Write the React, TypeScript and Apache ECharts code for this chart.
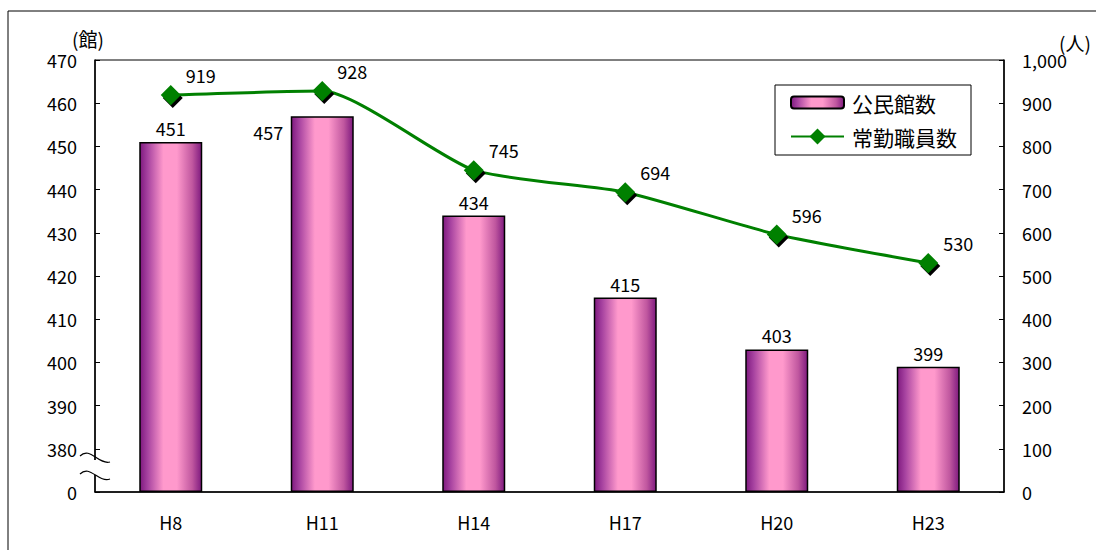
import React, { useEffect, useRef } from "react";
import * as echarts from "echarts";

const categories = ["H8", "H11", "H14", "H17", "H20", "H23"];
const halls = [451, 457, 434, 415, 403, 399];
const staff = [919, 928, 745, 694, 596, 530];
const leftTickLabels = ["0", "380", "390", "400", "410", "420", "430", "440", "450", "460", "470"];
const BREAK_BASE = 370;

const FONT = "'Noto Sans CJK JP', 'Noto Sans', sans-serif";

export default function App() {
  const ref = useRef<HTMLDivElement>(null);
  useEffect(() => {
    if (!ref.current) return;
    const chart = echarts.init(ref.current, null, { renderer: "svg" });
    const barGradient = new echarts.graphic.LinearGradient(0, 0, 1, 0, [
      { offset: 0, color: "#7f1a7f" },
      { offset: 0.12, color: "#a5419f" },
      { offset: 0.38, color: "#ff99cc" },
      { offset: 0.6, color: "#ff99cc" },
      { offset: 0.85, color: "#c0579f" },
      { offset: 1, color: "#7f1a7f" },
    ]);
    const legendText = { fontSize: 21, color: "#000", fontFamily: FONT, padding: [0, 0, 0, 3] };
    const option: any = {
      animation: false,
      textStyle: { fontFamily: FONT },
      grid: {
        left: 95,
        right: 92,
        top: 60,
        bottom: 58,
        show: true,
        borderColor: "#000",
        borderWidth: 1,
        backgroundColor: "transparent",
      },
      legend: [
        {
          orient: "vertical",
          left: 790,
          top: 92,
          padding: 0,
          itemWidth: 53,
          itemHeight: 12,
          textStyle: legendText,
          data: [{ name: "公民館数" }],
          z: 20,
        },
        {
          orient: "vertical",
          left: 790,
          top: 126,
          padding: 0,
          itemWidth: 53,
          itemHeight: 20,
          textStyle: legendText,
          data: [{ name: "常勤職員数" }],
          z: 20,
        },
      ],
      xAxis: {
        type: "category",
        data: categories,
        axisLine: { lineStyle: { color: "#000", width: 1.5 } },
        axisTick: { show: false },
        axisLabel: { fontSize: 18, color: "#000", margin: 21, fontFamily: FONT },
      },
      yAxis: [
        {
          type: "value",
          min: 0,
          max: 100,
          interval: 10,
          position: "left",
          axisLine: { show: true, lineStyle: { color: "#000", width: 1.5 } },
          axisTick: { show: true, inside: true, length: 5, lineStyle: { color: "#000" } },
          splitLine: { show: false },
          axisLabel: {
            fontSize: 18,
            color: "#000",
            margin: 18,
            fontFamily: FONT,
            formatter: (v: number) => leftTickLabels[Math.round(v / 10)] ?? "",
          },
        },
        {
          type: "value",
          min: 0,
          max: 1000,
          interval: 100,
          position: "right",
          axisLine: { show: true, lineStyle: { color: "#000", width: 1.5 } },
          axisTick: { show: true, inside: true, length: 5, lineStyle: { color: "#000" } },
          splitLine: { show: false },
          axisLabel: {
            fontSize: 18,
            color: "#000",
            margin: 18,
            fontFamily: FONT,
            formatter: (v: number) => v.toLocaleString("en-US"),
          },
        },
      ],
      series: [
        {
          name: "公民館数",
          type: "bar",
          yAxisIndex: 0,
          barWidth: 63,
          itemStyle: { color: barGradient, borderColor: "#000", borderWidth: 1.5 },
          label: {
            show: true,
            position: "top",
            fontSize: 18,
            color: "#000",
            fontFamily: FONT,
            formatter: (p: any) => String(halls[p.dataIndex]),
          },
          data: halls.map((v, i) =>
            i === 1
              ? { value: v - BREAK_BASE, label: { offset: [-54, 30] } }
              : { value: v - BREAK_BASE }
          ),
          z: 2,
        },
        {
          name: "常勤職員数",
          type: "line",
          yAxisIndex: 1,
          smooth: 0.2,
          symbol: "diamond",
          symbolSize: 20,
          lineStyle: { color: "#008000", width: 3 },
          itemStyle: {
            color: "#008000",
            shadowColor: "rgba(0,0,0,1)",
            shadowOffsetX: 2,
            shadowOffsetY: 3,
            shadowBlur: 0,
          },
          label: {
            show: true,
            position: "top",
            offset: [30, 4],
            fontSize: 18,
            color: "#000",
            fontFamily: FONT,
          },
          data: staff,
          z: 3,
        },
      ],
      graphic: [
        {
          type: "rect",
          shape: { x: 8, y: 11, width: 1200, height: 600 },
          style: { fill: "none", stroke: "#000", lineWidth: 1 },
          silent: true,
          z: -10,
        },
        {
          type: "rect",
          shape: { x: 775, y: 85, width: 196, height: 70 },
          style: { fill: "#fff", stroke: "#000", lineWidth: 1 },
          silent: true,
          z: 5,
        },
        {
          type: "rect",
          shape: { x: 90, y: 460, width: 10, height: 15 },
          style: { fill: "#fff" },
          z: 100,
        },
        {
          type: "bezierCurve",
          shape: { x1: 80, y1: 456, cpx1: 90, cpy1: 446, cpx2: 98, cpy2: 465, x2: 110, y2: 462 },
          style: { stroke: "#000", lineWidth: 1.2, fill: "none" },
          z: 101,
        },
        {
          type: "bezierCurve",
          shape: { x1: 80, y1: 474, cpx1: 90, cpy1: 464, cpx2: 98, cpy2: 483, x2: 110, y2: 479 },
          style: { stroke: "#000", lineWidth: 1.2, fill: "none" },
          z: 101,
        },
        {
          type: "text",
          x: 88,
          y: 38,
          style: {
            text: "(館)",
            fontSize: 19,
            fill: "#000",
            fontFamily: FONT,
            textAlign: "center",
            textVerticalAlign: "middle",
          },
          z: 101,
        },
        {
          type: "text",
          x: 1059,
          y: 42,
          style: {
            text: "(人)",
            fontSize: 19,
            fill: "#000",
            fontFamily: FONT,
            textAlign: "left",
            textVerticalAlign: "middle",
          },
          z: 101,
        },
      ],
    };
    chart.setOption(option);
    return () => chart.dispose();
  }, []);
  return (
    <div
      ref={ref}
      style={{ position: "absolute", left: 0, top: 0, width: 1096, height: 550, background: "#fff" }}
    />
  );
}
